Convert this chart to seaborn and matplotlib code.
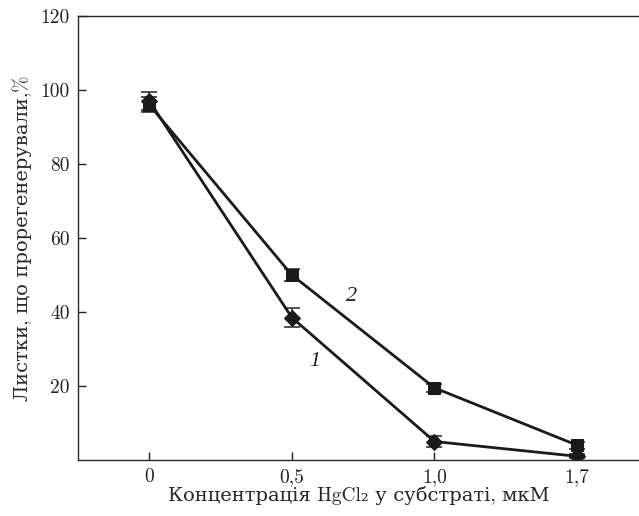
import pandas as pd
import matplotlib.pyplot as plt
import seaborn as sns

conc = ['0', '0,5', '1,0', '1,7']
series1 = [97, 38.5, 5, 1]
err1 = [2.5, 2.5, 1.5, 0.5]
series2 = [96, 50, 19.5, 4]
err2 = [2, 1.5, 1, 1]

sns.set_style('ticks')
plt.rcParams['font.family'] = ['cmr10', 'DejaVu Serif']
plt.rcParams['text.color'] = '#222222'
plt.rcParams['xtick.color'] = '#222222'
plt.rcParams['ytick.color'] = '#222222'

pos = list(range(len(conc)))
df = pd.DataFrame({
    'x': pos * 2,
    'y': series1 + series2,
    'err': err1 + err2,
    'curve': ['1'] * 4 + ['2'] * 4,
})

fig = plt.figure(figsize=(6.39, 5.16), dpi=100)
ax = fig.add_axes([0.122, 0.1085, 0.878, 0.8605])

sns.lineplot(data=df, x='x', y='y', style='curve', markers={'1': 'D', '2': 's'},
             dashes=False, color='#1a1a1a', linewidth=2, markersize=8.5,
             markeredgecolor='#1a1a1a', legend=False, ax=ax)
for c, sub in df.groupby('curve'):
    ax.errorbar(sub['x'], sub['y'], yerr=sub['err'], fmt='none', ecolor='#333333',
                elinewidth=1.2, capsize=6, capthick=1.2, zorder=1)

# curve numbers
ax.text(1.16, 26.5, '1', fontsize=16, family='Liberation Serif', style='italic',
        ha='center', va='center')
ax.text(1.42, 44.3, '2', fontsize=16, family='Liberation Serif', style='italic',
        ha='center', va='center')

ax.set_xlim(-0.5, 3.434)
ax.set_ylim(0, 120)
ax.set_xticks(pos)
ax.set_xticklabels(conc)
ax.set_yticks([20, 40, 60, 80, 100, 120])
ax.tick_params(direction='in', length=6, width=1, labelsize=14, pad=6)
ax.spines['right'].set_visible(False)
for s in ['left', 'top', 'bottom']:
    ax.spines[s].set_linewidth(1)
ax.set_xlabel('Концентрація HgCl₂ у субстраті, мкМ', fontsize=14, labelpad=0)
ax.set_ylabel('Листки, що прорегенерували,%', fontsize=14, labelpad=6)

fig.savefig('out.png', dpi=100)
